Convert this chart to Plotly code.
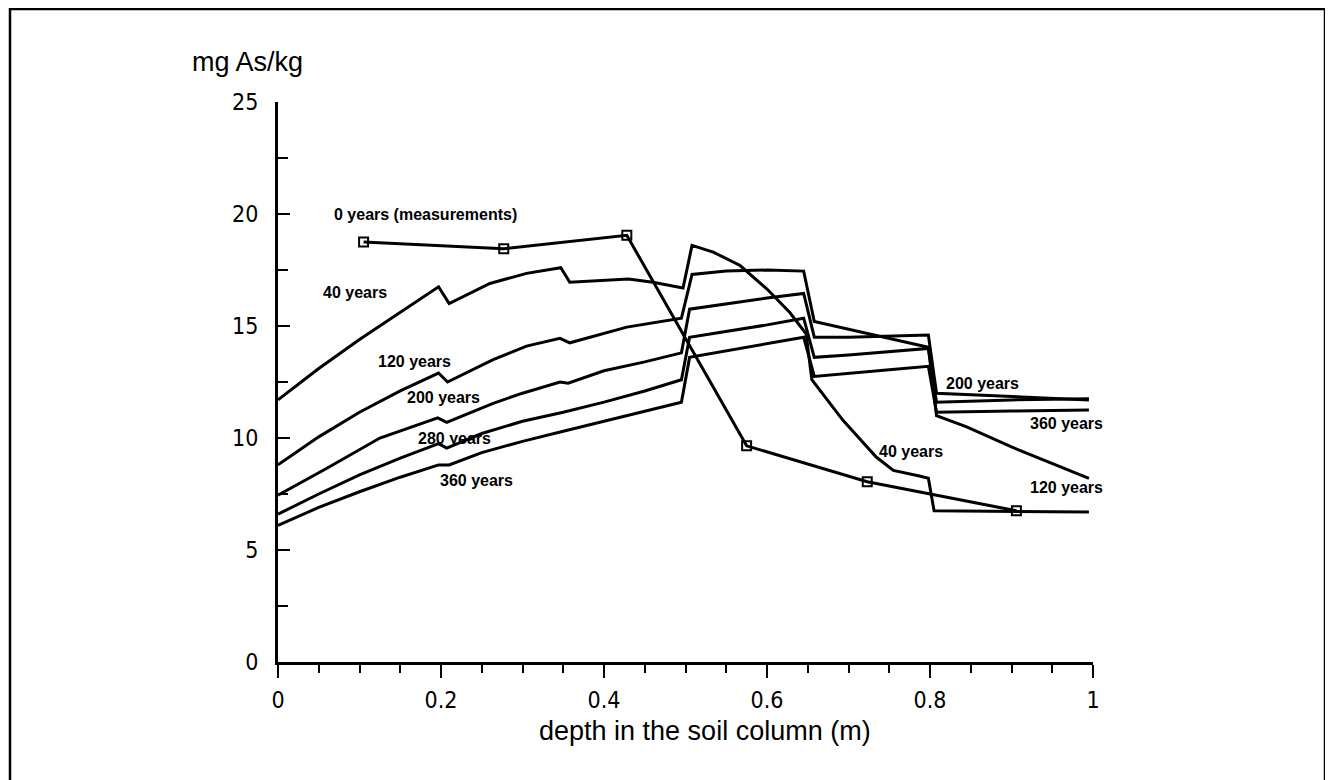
import plotly.graph_objects as go

# ---- data ----
meas_x = [0.105, 0.277, 0.428, 0.575, 0.723, 0.906]
meas_y = [18.75, 18.45, 19.05, 9.65, 8.05, 6.75]

x40 = [0.0, 0.05, 0.1, 0.15, 0.197, 0.21, 0.26, 0.305, 0.347, 0.358, 0.43, 0.46, 0.497, 0.508, 0.534,
       0.567, 0.6, 0.628, 0.648, 0.655, 0.693, 0.734, 0.755, 0.787, 0.798, 0.805, 0.995]
y40 = [11.7, 13.1, 14.4, 15.6, 16.75, 16.0, 16.9, 17.35, 17.6, 16.95, 17.1, 16.95, 16.7, 18.6, 18.3,
       17.7, 16.65, 15.6, 14.65, 12.6, 10.8, 9.15, 8.55, 8.3, 8.2, 6.75, 6.7]

x120 = [0.0, 0.05, 0.1, 0.15, 0.197, 0.208, 0.264, 0.305, 0.346, 0.358, 0.428, 0.495, 0.508, 0.55,
        0.6, 0.645, 0.658, 0.7, 0.75, 0.798, 0.808, 0.845, 0.9, 0.96, 0.995]
y120 = [8.8, 10.05, 11.15, 12.1, 12.9, 12.5, 13.5, 14.1, 14.45, 14.25, 14.95, 15.35, 17.3, 17.45,
        17.5, 17.45, 15.2, 14.85, 14.45, 14.05, 11.0, 10.5, 9.6, 8.7, 8.2]

x200 = [0.0, 0.06, 0.125, 0.196, 0.207, 0.264, 0.3, 0.346, 0.356, 0.4, 0.45, 0.495, 0.505, 0.55, 0.6,
        0.645, 0.658, 0.7, 0.75, 0.798, 0.808, 0.9, 0.995]
y200 = [7.45, 8.65, 10.0, 10.9, 10.7, 11.55, 12.0, 12.5, 12.45, 13.0, 13.4, 13.8, 15.75, 16.0, 16.25,
        16.45, 14.5, 14.5, 14.55, 14.6, 12.0, 11.85, 11.7]

x280 = [0.0, 0.05, 0.1, 0.15, 0.197, 0.207, 0.25, 0.3, 0.35, 0.4, 0.45, 0.495, 0.505, 0.55, 0.6,
        0.645, 0.658, 0.7, 0.75, 0.798, 0.808, 0.9, 0.995]
y280 = [6.6, 7.5, 8.35, 9.1, 9.75, 9.55, 10.2, 10.75, 11.15, 11.6, 12.1, 12.6, 14.5, 14.75, 15.05,
        15.35, 13.6, 13.7, 13.85, 14.0, 11.6, 11.7, 11.75]

x360 = [0.0, 0.05, 0.1, 0.15, 0.197, 0.21, 0.25, 0.3, 0.35, 0.4, 0.45, 0.495, 0.505, 0.55, 0.6,
        0.645, 0.658, 0.7, 0.75, 0.798, 0.808, 0.9, 0.995]
y360 = [6.1, 6.9, 7.6, 8.25, 8.8, 8.8, 9.35, 9.85, 10.3, 10.75, 11.2, 11.6, 13.6, 13.9, 14.2,
        14.5, 12.75, 12.9, 13.05, 13.2, 11.15, 11.2, 11.25]

label_texts = ["0 years (measurements)", "40 years", "120 years", "200 years", "280 years",
               "360 years", "40 years", "120 years", "200 years", "360 years"]
label_x = [0.181, 0.095, 0.168, 0.203, 0.217, 0.243, 0.777, 0.967, 0.864, 0.967]
label_y = [20.0, 16.5, 13.4, 11.8, 10.0, 8.1, 9.4, 7.8, 12.45, 10.65]

x_ticks = [0, 0.2, 0.4, 0.6, 0.8, 1]
y_ticks = [0, 5, 10, 15, 20, 25]

# ---- figure (page body has an 8px margin, so everything is offset by -8) ----
OFF = 8
W, H = 1333 - OFF, 780 - OFF
PL, PR, PT, PB = 278 - OFF, 1093 - OFF, 102 - OFF, 662 - OFF   # plot area in figure pixels
L, R, T, B = PL, W - PR, PT, H - PB
pw, ph = PR - PL, PB - PT


def px(xp):  # reference-page x pixel -> paper coordinate
    return (xp - OFF - PL) / pw


def py(yp):  # reference-page y pixel -> paper coordinate
    return (PB - (yp - OFF)) / ph


fig = go.Figure()

line_style = dict(color="black", width=3)
for xs, ys in [(x40, y40), (x120, y120), (x200, y200), (x280, y280), (x360, y360)]:
    fig.add_trace(go.Scatter(x=xs, y=ys, mode="lines", line=line_style,
                             showlegend=False, hoverinfo="skip"))

fig.add_trace(go.Scatter(x=meas_x, y=meas_y, mode="lines+markers", line=line_style,
                         marker=dict(symbol="square-open", size=9, color="black",
                                     line=dict(width=2, color="black")),
                         showlegend=False, hoverinfo="skip"))

ann_font = dict(family="Liberation Sans, Arial, sans-serif", size=16, color="black")
for t, xx, yy in zip(label_texts, label_x, label_y):
    fig.add_annotation(x=xx, y=yy, text="<b>" + t + "</b>", showarrow=False,
                       font=ann_font, xanchor="center", yanchor="middle")

title_font = dict(family="Liberation Sans, Arial, sans-serif", size=27, color="black")
fig.add_annotation(xref="paper", yref="paper", x=px(705), y=py(731),
                   text="depth in the soil column (m)", showarrow=False,
                   font=title_font, xanchor="center", yanchor="middle")
fig.add_annotation(xref="paper", yref="paper", x=px(190), y=py(62),
                   text="mg As/kg", showarrow=False,
                   font=title_font, xanchor="left", yanchor="middle")

# scanned border (left, top, right)
fig.add_shape(type="path", xref="paper", yref="paper",
              path=f"M {px(10)} {py(790)} L {px(10)} {py(9)} L {px(1325)} {py(9)} L {px(1325)} {py(790)}",
              line=dict(color="black", width=2.5))

tick_font = dict(family="Liberation Sans Narrow, Arial Narrow, DejaVu Sans Condensed, Liberation Sans",
                 size=23, color="black")

fig.update_xaxes(range=[0, 1], showgrid=False, zeroline=False, showline=True,
                 linecolor="black", linewidth=3, ticks="outside", ticklen=13, tickwidth=2,
                 tickcolor="black", tickvals=x_ticks, ticktext=[str(v) for v in x_ticks],
                 tickfont=tick_font, ticklabelstandoff=2,
                 minor=dict(dtick=0.05, ticks="outside", ticklen=8, tickwidth=2,
                            tickcolor="black", showgrid=False))
fig.update_yaxes(range=[0, 25], showgrid=False, zeroline=False, showline=True,
                 linecolor="black", linewidth=3, ticks="inside", ticklen=12, tickwidth=2,
                 tickcolor="black", tickvals=y_ticks, ticktext=[str(v) for v in y_ticks],
                 tickfont=tick_font, ticklabelstandoff=12,
                 minor=dict(dtick=2.5, ticks="inside", ticklen=10, tickwidth=2,
                            tickcolor="black", showgrid=False))

fig.update_layout(width=W, height=H, margin=dict(l=L, r=R, t=T, b=B),
                  paper_bgcolor="white", plot_bgcolor="white", showlegend=False)

fig.write_html("out.html")
